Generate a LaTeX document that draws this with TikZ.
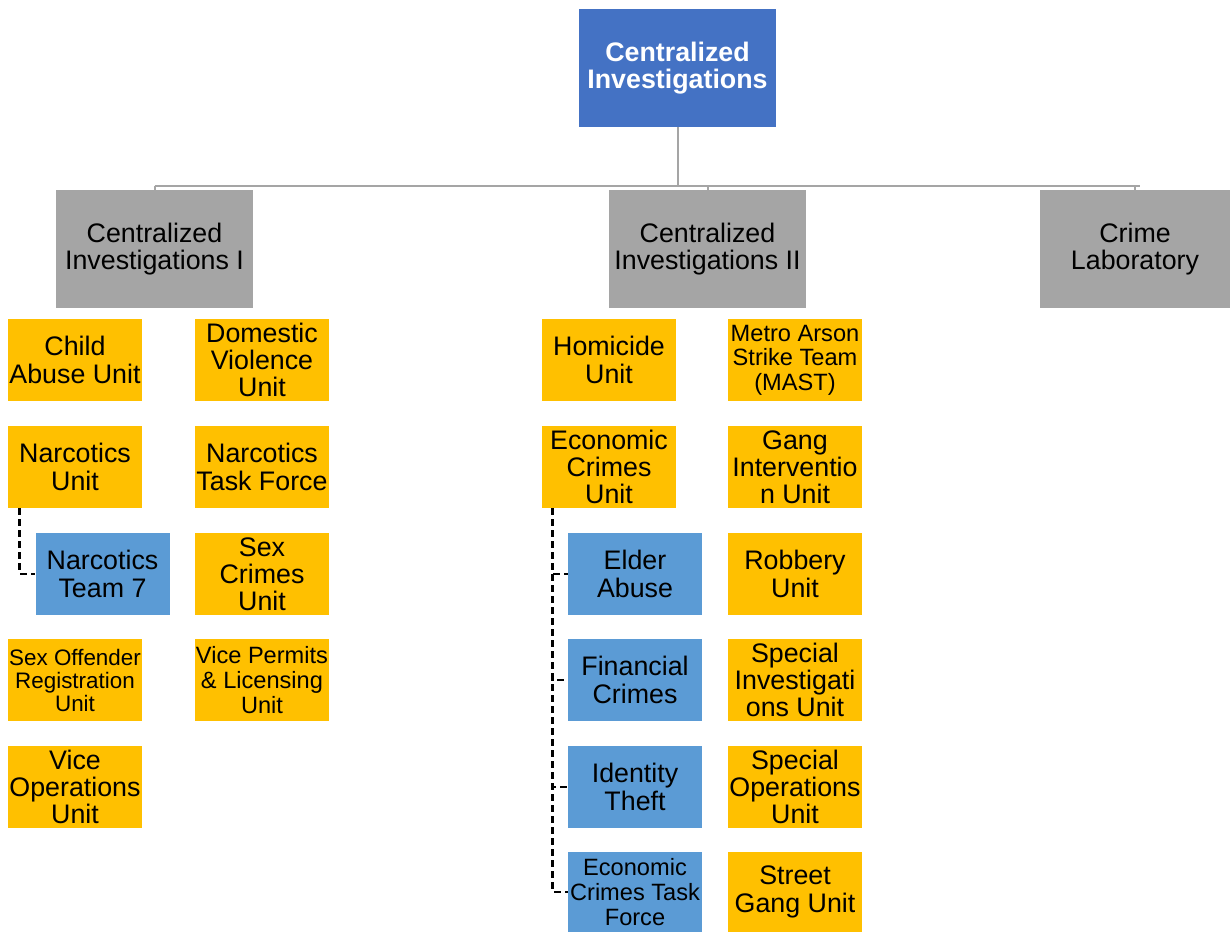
\documentclass[tikz,border=0pt]{standalone}
\usepackage{fontspec}
\setmainfont{Liberation Sans}
\usepackage{tikz}
\definecolor{topblue}{HTML}{4472C4}
\definecolor{deptgray}{HTML}{A5A5A5}
\definecolor{unitgold}{HTML}{FFC000}
\definecolor{teamblue}{HTML}{5B9BD5}
\tikzset{topbox/.style={fill=topblue, text=white, font=\bfseries\fontsize{13.4}{13.7}\selectfont, align=center, minimum width=98.5pt, minimum height=59pt, inner sep=0pt}}
\tikzset{deptbox/.style={fill=deptgray, font=\fontsize{13.4}{13.7}\selectfont, align=center, minimum width=98.5pt, minimum height=59pt, inner sep=0pt}}
\tikzset{unitbox/.style={fill=unitgold, font=\fontsize{13.4}{13.6}\selectfont, align=center, minimum width=67pt, minimum height=41pt, inner sep=0pt}}
\tikzset{teambox/.style={unitbox, fill=teamblue}}
\tikzset{smalltext/.style={font=\fontsize{11.8}{12.3}\selectfont}}
\tikzset{tinytext/.style={font=\fontsize{11.2}{11.5}\selectfont}}
\tikzset{barline/.style={draw=deptgray, line width=1pt}}
\tikzset{dashline/.style={draw=black, line width=1.3pt, dash pattern=on 3.5pt off 2pt}}

\begin{document}
\begin{tikzpicture}[x=0.5pt, y=-0.5pt]
    \useasboundingbox (0,0) rectangle (1230,932);

    \node[topbox] (top) at (677.5, 68)     {Centralized\\Investigations};

    \node[deptbox] (ci1) at (154.5, 249)   {Centralized\\Investigations I};
    \node[deptbox] (ci2) at (707.5, 249)   {Centralized\\Investigations II};
    \node[deptbox, minimum width=95pt] (lab) at (1135, 249) {Crime\\Laboratory};

    \node[unitbox] (child) at (75, 360)     {Child\\Abuse Unit};
    \node[unitbox] (narc) at (75, 467)      {Narcotics\\Unit};
    \node[teambox] (team7) at (102.5, 574)  {Narcotics\\Team 7};
    \node[unitbox, tinytext] (sexoff) at (75, 680) {Sex Offender\\Registration\\Unit};
    \node[unitbox] (viceops) at (75, 787)   {Vice\\Operations\\Unit};

    \node[unitbox] (domestic) at (262, 360) {Domestic\\Violence\\Unit};
    \node[unitbox] (narctf) at (262, 467)   {Narcotics\\Task Force};
    \node[unitbox] (sexcrimes) at (262, 574) {Sex\\Crimes\\Unit};
    \node[unitbox, smalltext] (viceperm) at (262, 680) {Vice Permits\\\& Licensing\\Unit};

    \node[unitbox] (homicide) at (609, 360) {Homicide\\Unit};
    \node[unitbox] (econ) at (609, 467)     {Economic\\Crimes\\Unit};
    \node[teambox] (elder) at (635, 574)    {Elder\\Abuse};
    \node[teambox] (fin) at (635, 680)      {Financial\\Crimes};
    \node[teambox] (ident) at (635, 787)    {Identity\\Theft};
    \node[teambox, smalltext, minimum height=40pt] (ectf) at (635, 892) {Economic\\Crimes Task\\Force};

    \node[unitbox, smalltext] (mast) at (795, 360) {Metro Arson\\Strike Team\\(MAST)};
    \node[unitbox] (gang) at (795, 467)     {Gang\\Interventio\\n Unit};
    \node[unitbox] (robbery) at (795, 574)  {Robbery\\Unit};
    \node[unitbox] (specinv) at (795, 680)  {Special\\Investigati\\ons Unit};
    \node[unitbox] (specops) at (795, 787)  {Special\\Operations\\Unit};
    \node[unitbox, minimum height=40pt] (street) at (795, 892) {Street\\Gang Unit};

    \coordinate (barL) at (154.5, 186);
    \coordinate (barR) at (1140, 186);

    \draw[barline] (barL) -- (barR);
    \draw[barline] (top.south) -- (top.south |- barL);
    \draw[barline] (ci1.north) -- (ci1.north |- barL);
    \draw[barline] (ci2.north) -- (ci2.north |- barL);
    \draw[barline] (lab.north) -- (lab.north |- barL);

    \draw[dashline] ([shift={(12,0)}]narc.south west) |- (team7.west);
    \draw[dashline] ([shift={(11,0)}]econ.south west) |- (elder.west);
    \draw[dashline] ([shift={(11,0)}]econ.south west) |- (fin.west);
    \draw[dashline] ([shift={(11,0)}]econ.south west) |- (ident.west);
    \draw[dashline] ([shift={(11,0)}]econ.south west) |- (ectf.west);
\end{tikzpicture}
\end{document}
